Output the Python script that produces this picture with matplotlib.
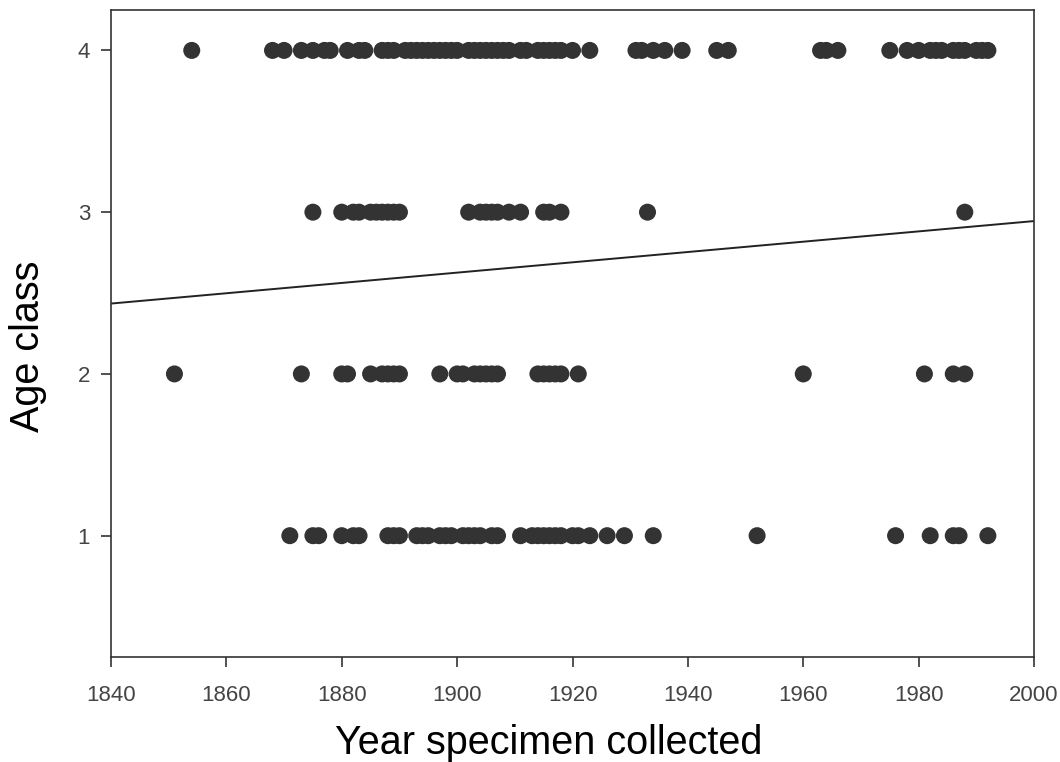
import matplotlib
matplotlib.use("Agg")
import matplotlib.pyplot as plt
import numpy as np

# years collected, grouped by age class
YEARS_AGE1 = [1871, 1875, 1876, 1880, 1882, 1883, 1888, 1889, 1890, 1893, 1894,
              1895, 1897, 1898, 1899, 1901, 1902, 1903, 1904, 1906, 1907, 1911,
              1913, 1914, 1915, 1916, 1917, 1918, 1920, 1921, 1923, 1926, 1929,
              1934, 1952, 1976, 1982, 1986, 1987, 1992]
YEARS_AGE2 = [1851, 1873, 1880, 1881, 1885, 1887, 1888, 1889, 1890, 1897, 1900,
              1901, 1903, 1904, 1905, 1906, 1907, 1914, 1915, 1916, 1917, 1918,
              1921, 1960, 1981, 1986, 1988]
YEARS_AGE3 = [1875, 1880, 1882, 1883, 1885, 1886, 1887, 1888, 1889, 1890, 1902,
              1904, 1905, 1906, 1907, 1909, 1911, 1915, 1916, 1918, 1933, 1988]
YEARS_AGE4 = [1854, 1868, 1870, 1873, 1875, 1877, 1878, 1881, 1883, 1884, 1887,
              1888, 1889, 1891, 1892, 1893, 1894, 1895, 1896, 1897, 1898, 1899,
              1900, 1902, 1903, 1904, 1905, 1906, 1907, 1908, 1909, 1911, 1912,
              1914, 1915, 1916, 1917, 1918, 1920, 1923, 1931, 1932, 1934, 1936,
              1939, 1945, 1947, 1963, 1964, 1966, 1975, 1978, 1980, 1982, 1983,
              1984, 1986, 1987, 1988, 1990, 1991, 1992]

# fitted trend line end values
TREND_YEARS = [1840, 2000]
TREND_AGE = [2.435, 2.945]

X_TICKS = [1840, 1860, 1880, 1900, 1920, 1940, 1960, 1980, 2000]
Y_TICKS = [1, 2, 3, 4]

plt.rcParams["font.family"] = ["Liberation Sans", "DejaVu Sans"]

fig = plt.figure(figsize=(10.6, 7.62), dpi=100)
ax = fig.add_axes([0.1047, 0.1378, 0.8708, 0.8491])

groups = [(1, YEARS_AGE1), (2, YEARS_AGE2), (3, YEARS_AGE3), (4, YEARS_AGE4)]
for age, years in groups:
    ax.scatter(years, [age] * len(years), s=150, color="#333333",
               edgecolors="none", zorder=3)

ax.plot(TREND_YEARS, TREND_AGE, color="#222222", linewidth=1.4, zorder=2)

ax.set_xlim(1840, 2000)
ax.set_ylim(0.25, 4.25)
ax.set_xticks(X_TICKS)
ax.set_yticks(Y_TICKS)
ax.tick_params(direction="out", length=7, width=1.2, color="#333333",
               labelsize=16, labelcolor="#444444")
ax.tick_params(axis="x", pad=13.5)
ax.tick_params(axis="y", pad=8)
for spine in ax.spines.values():
    spine.set_color("#333333")
    spine.set_linewidth(1.2)

ax.set_xlabel("Year specimen collected", fontsize=28.5, labelpad=12.5)
ax.set_ylabel("Age class", fontsize=28.5, labelpad=22)
# labels in the original sit a bit off-centre
ax.xaxis.label.set_x(0.474)
ax.yaxis.label.set_y(0.48)

fig.savefig("out.png", dpi=100)
